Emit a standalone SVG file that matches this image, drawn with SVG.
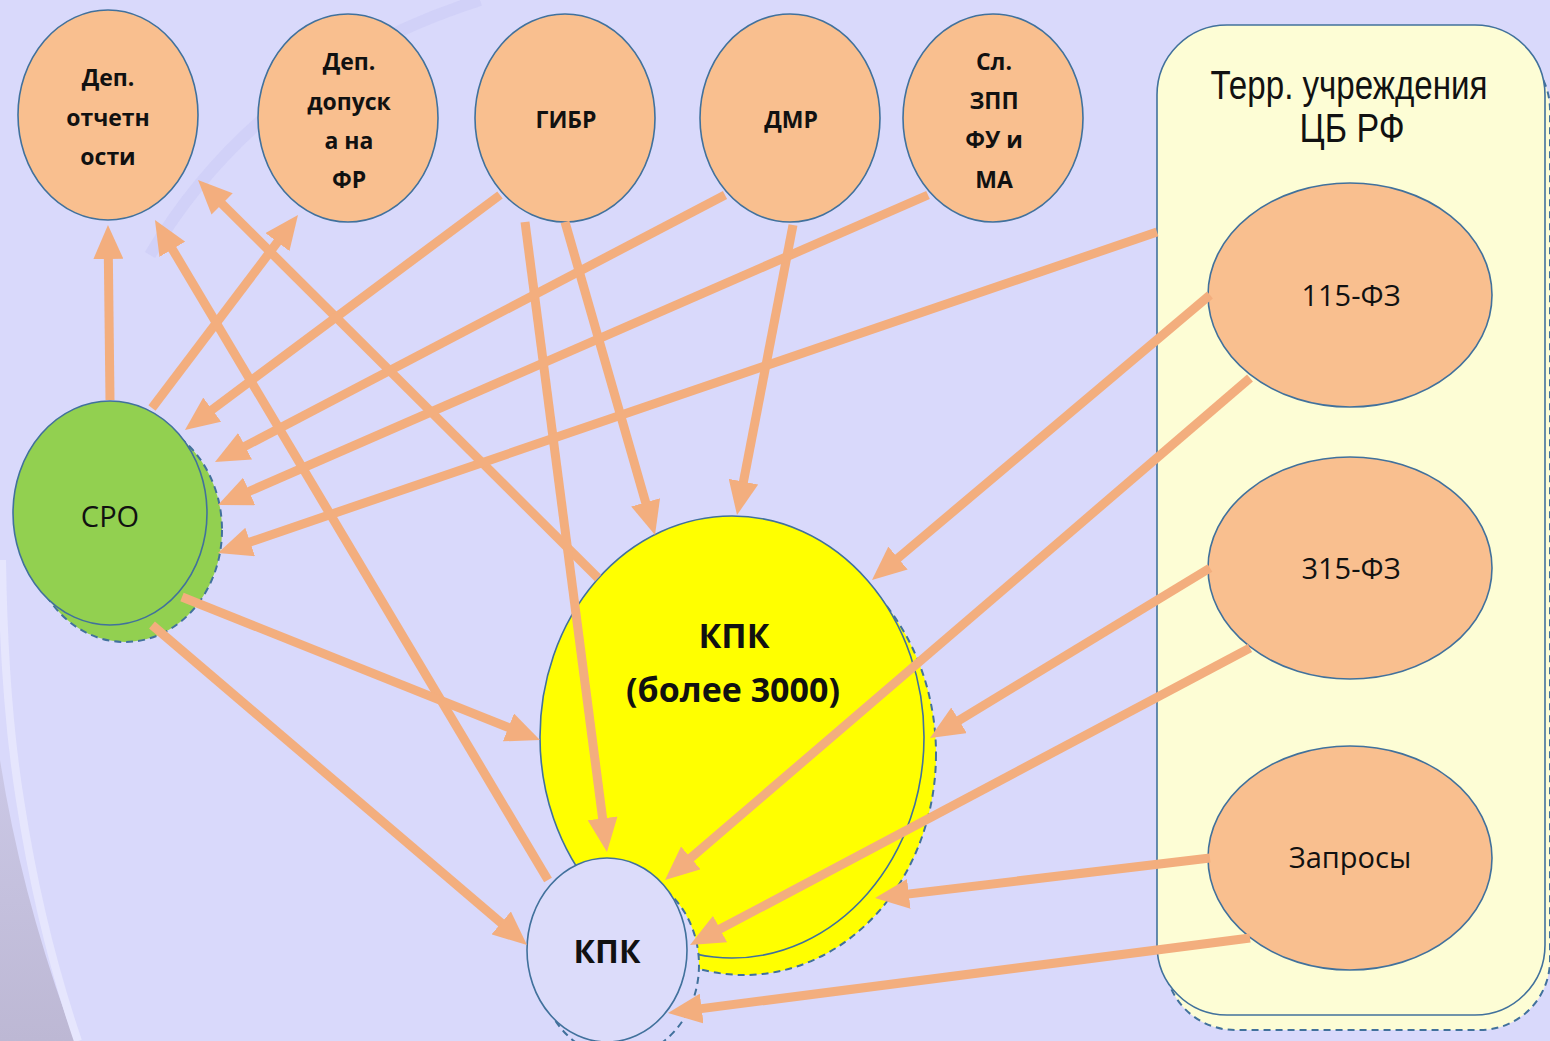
<svg xmlns="http://www.w3.org/2000/svg" width="1550" height="1041" viewBox="0 0 1550 1041">
<defs>
<style>
.node{stroke:#41719c;stroke-width:1.6}
.orange{fill:#f9bf8f}
.shadow{stroke:#41719c;stroke-width:2;stroke-dasharray:7 5}
.lbl{font-family:"Open Sans","Liberation Sans",sans-serif;fill:#111;text-anchor:middle}
.b{font-weight:bold;font-size:23px}
.r{font-size:29px}
.conn{stroke:#f3ae7e;stroke-width:9;fill:none;marker-end:url(#ah)}
</style>
<marker id="ah" markerUnits="userSpaceOnUse" viewBox="0 0 34 30" markerWidth="34" markerHeight="30" refX="14" refY="15" orient="auto">
<path d="M0,0 L34,15 L0,30 Z" fill="#f3ae7e"/>
</marker>
<linearGradient id="corner" x1="0" y1="0" x2="0" y2="1">
<stop offset="0" stop-color="#cbc8e6"/>
<stop offset="1" stop-color="#bdb8d4"/>
</linearGradient>
</defs>
<rect x="0" y="0" width="1550" height="1041" fill="#d9d9fb"/>
<path d="M0,760 Q22,900 75,1041 L0,1041 Z" fill="url(#corner)"/>
<path d="M2,560 Q4,700 20,800 Q40,930 78,1041" fill="none" stroke="#e6e6fd" stroke-width="8"/>
<path d="M150,255 Q260,70 480,0" fill="none" stroke="#cdcdf6" stroke-width="12" opacity="0.7"/>

<g id="terr">
<rect x="1165" y="40" width="385" height="990" rx="70" fill="#fdfdd5" class="shadow"/>
<rect x="1157" y="25" width="388" height="990" rx="70" fill="#fdfdd5" class="node"/>
<text class="lbl" x="1349" y="99" style="font-family:'Liberation Sans Narrow','Liberation Sans',sans-serif;font-size:40px" textLength="277" lengthAdjust="spacingAndGlyphs">Терр. учреждения</text>
<text class="lbl" x="1352" y="142" style="font-family:'Liberation Sans Narrow','Liberation Sans',sans-serif;font-size:40px" textLength="105" lengthAdjust="spacingAndGlyphs">ЦБ РФ</text>
</g>

<g id="n115">
<ellipse cx="1350" cy="295" rx="142" ry="112" class="node orange"/>
<text class="lbl r" x="1351" y="306">115-ФЗ</text>
</g>
<g id="n315">
<ellipse cx="1350" cy="568" rx="142" ry="111" class="node orange"/>
<text class="lbl r" x="1351" y="579">315-ФЗ</text>
</g>
<g id="zapros">
<ellipse cx="1350" cy="858" rx="142" ry="112" class="node orange"/>
<text class="lbl r" x="1350" y="868">Запросы</text>
</g>

<g id="dep_otch">
<ellipse cx="108" cy="115" rx="90" ry="105" class="node orange"/>
<text class="lbl b" x="108" y="86">Деп.</text>
<text class="lbl b" x="108" y="126">отчетн</text>
<text class="lbl b" x="108" y="165">ости</text>
</g>
<g id="dep_dop">
<ellipse cx="348" cy="118" rx="90" ry="104" class="node orange"/>
<text class="lbl b" x="349" y="70">Деп.</text>
<text class="lbl b" x="349" y="110">допуск</text>
<text class="lbl b" x="349" y="149">а на</text>
<text class="lbl b" x="349" y="188">ФР</text>
</g>
<g id="gibr">
<ellipse cx="565" cy="118" rx="90" ry="104" class="node orange"/>
<text class="lbl b" x="566" y="128">ГИБР</text>
</g>
<g id="dmr">
<ellipse cx="790" cy="118" rx="90" ry="104" class="node orange"/>
<text class="lbl b" x="791" y="128">ДМР</text>
</g>
<g id="sl_zpp">
<ellipse cx="993" cy="118" rx="90" ry="104" class="node orange"/>
<text class="lbl b" x="994" y="70">Сл.</text>
<text class="lbl b" x="994" y="109">ЗПП</text>
<text class="lbl b" x="994" y="148">ФУ и</text>
<text class="lbl b" x="994" y="188">МА</text>
</g>

<g id="sro">
<ellipse cx="125" cy="530" rx="97" ry="112" fill="#92d050" class="shadow"/>
<ellipse cx="110" cy="513" rx="97" ry="112" fill="#92d050" class="node"/>
<text class="lbl" x="110" y="527" style="font-size:29px">СРО</text>
</g>

<g id="kpk_big">
<ellipse cx="744" cy="754" rx="192" ry="221" fill="#ffff00" class="shadow"/>
<ellipse cx="732" cy="737" rx="192" ry="221" fill="#ffff00" class="node"/>
<text class="lbl" x="734" y="648" style="font-size:34px;font-weight:bold">КПК</text>
<text class="lbl" x="733" y="702" style="font-size:34px;font-weight:bold">(более 3000)</text>
</g>

<g id="kpk_small">
<ellipse cx="619" cy="965" rx="80" ry="92" fill="#d9d9fb" class="shadow"/>
<ellipse cx="607" cy="950" rx="80" ry="92" fill="#dcdcfa" class="node"/>
<text class="lbl" x="607" y="963" style="font-size:32px;font-weight:bold">КПК</text>
</g>

<g id="connectors">
<line class="conn" x1="110" y1="400" x2="108.2" y2="245"/>
<line class="conn" x1="152" y1="408" x2="285.9" y2="230.9"/>
<line class="conn" x1="548" y1="880" x2="165.2" y2="237.2"/>
<line class="conn" x1="598" y1="578" x2="212.2" y2="194.1"/>
<line class="conn" x1="500" y1="195" x2="201" y2="418"/>
<line class="conn" x1="565" y1="222" x2="649.5" y2="515.8"/>
<line class="conn" x1="525" y1="222" x2="604.4" y2="832.2"/>
<line class="conn" x1="725" y1="195" x2="232.7" y2="452.7"/>
<line class="conn" x1="793" y1="225" x2="740.8" y2="495.4"/>
<line class="conn" x1="928" y1="195" x2="236.3" y2="497"/>
<line class="conn" x1="1157" y1="232" x2="236.9" y2="546.5"/>
<line class="conn" x1="1210" y1="295" x2="887.3" y2="567.1"/>
<line class="conn" x1="1250" y1="378" x2="680.2" y2="867"/>
<line class="conn" x1="1210" y1="568" x2="947.1" y2="727.6"/>
<line class="conn" x1="1250" y1="648" x2="707.7" y2="935.6"/>
<line class="conn" x1="1210" y1="858" x2="894.9" y2="895.6"/>
<line class="conn" x1="1250" y1="938" x2="687.8" y2="1010.4"/>
<line class="conn" x1="182" y1="597" x2="521.4" y2="732.6"/>
<line class="conn" x1="152" y1="625" x2="511.8" y2="932"/>
</g>
</svg>
